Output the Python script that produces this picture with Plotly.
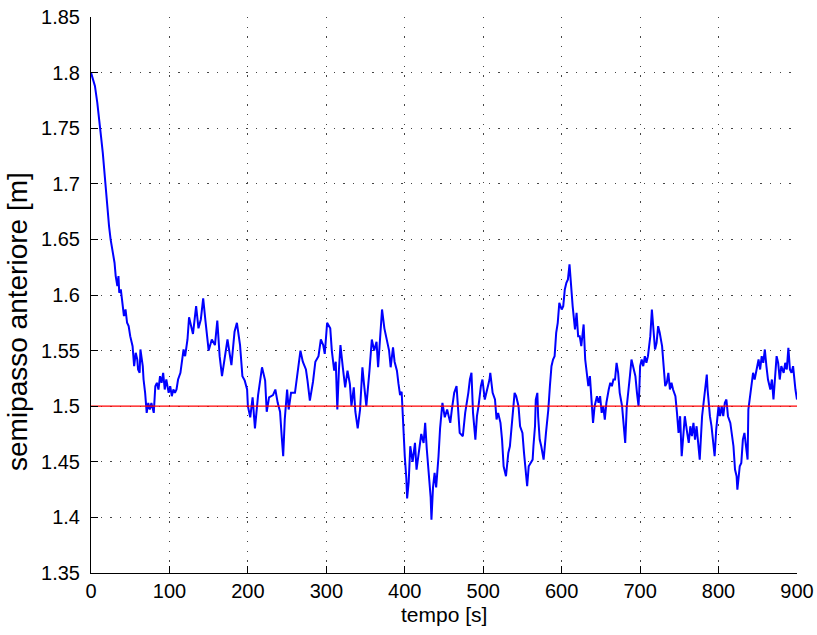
import plotly.graph_objects as go

# ---- data ----
t_a = [0, 5, 8, 10, 12.7, 15, 17, 19, 21, 23, 25, 28, 30, 31.5, 33.6, 35, 36, 38, 40, 42,
       44, 46, 48, 50, 53, 54, 55, 57, 59, 60, 62, 63, 65, 66, 67, 69, 71, 73, 75, 77,
       80, 82, 84, 86, 88, 90, 92, 94, 96, 99, 101, 103, 105, 107, 109, 111, 114, 116, 118]
v_a = [1.80, 1.788, 1.773, 1.758, 1.743, 1.728, 1.71, 1.692, 1.677, 1.662, 1.65, 1.638, 1.629, 1.617, 1.608, 1.617, 1.602, 1.605, 1.59, 1.581,
       1.587, 1.575, 1.572, 1.563, 1.554, 1.545, 1.536, 1.548, 1.542, 1.533, 1.53, 1.551, 1.542, 1.536, 1.524, 1.512, 1.494, 1.503, 1.497, 1.503,
       1.494, 1.518, 1.521, 1.515, 1.527, 1.521, 1.53, 1.515, 1.524, 1.512, 1.518, 1.509, 1.515, 1.512, 1.515, 1.524, 1.53, 1.542, 1.551]

t_b = [120, 123, 125, 130, 134, 137, 140, 143, 146, 150, 154, 158, 161, 164, 167, 170, 174, 179, 183, 186,
       190, 193, 196, 199, 200, 203, 206, 209, 211, 213, 218, 222, 224, 227, 232, 235, 238, 241, 243, 245,
       247, 250, 252, 255, 260, 264, 267, 270, 274, 276]
v_b = [1.545, 1.56, 1.58, 1.565, 1.59, 1.57, 1.578, 1.597, 1.576, 1.55, 1.56, 1.555, 1.577, 1.545, 1.527, 1.54, 1.56, 1.537, 1.567, 1.575,
       1.555, 1.527, 1.523, 1.515, 1.50, 1.49, 1.508, 1.48, 1.495, 1.51, 1.535, 1.523, 1.495, 1.508, 1.51, 1.515, 1.503, 1.495, 1.474, 1.455,
       1.488, 1.515, 1.497, 1.512, 1.512, 1.537, 1.55, 1.54, 1.533, 1.523]

t_c = [279, 283, 286, 290, 293, 296, 298, 301, 305, 307, 310, 312, 314, 316, 318, 321, 324, 327, 330, 332,
       335, 337, 340, 343, 346, 348, 351, 355, 358, 361, 364, 366, 369, 371, 374, 377, 380, 382, 385, 387,
       390, 392, 394, 396, 397, 399, 400, 402, 403, 405, 407, 410, 413, 415, 418, 421, 424, 426, 428, 431,
       433, 434, 436, 438, 440, 443, 445, 448, 451, 454]
v_c = [1.505, 1.522, 1.54, 1.545, 1.56, 1.555, 1.547, 1.575, 1.57, 1.55, 1.532, 1.54, 1.497, 1.532, 1.555, 1.535, 1.517, 1.532, 1.52, 1.50,
       1.517, 1.495, 1.48, 1.497, 1.535, 1.52, 1.50, 1.532, 1.56, 1.55, 1.558, 1.535, 1.57, 1.587, 1.57, 1.56, 1.55, 1.535, 1.553, 1.54,
       1.532, 1.52, 1.51, 1.513, 1.497, 1.48, 1.455, 1.435, 1.417, 1.432, 1.464, 1.45, 1.467, 1.443, 1.46, 1.475, 1.467, 1.485, 1.462, 1.437,
       1.418, 1.398, 1.427, 1.44, 1.427, 1.455, 1.48, 1.503, 1.49, 1.497]

t_d = [458, 460, 463, 466, 468, 470, 474, 477, 481, 483, 485, 487, 490, 492, 494, 497, 499, 502, 505, 508,
       509, 512, 515, 517, 519, 522, 524, 526, 529, 532, 534, 536, 538, 540, 542, 545, 547, 550, 552, 554,
       556, 558, 560, 563, 564, 566, 567, 569, 570, 572, 574, 577, 580, 583, 585, 587, 589, 591, 593, 595,
       597, 600, 602, 604, 606, 608, 610, 612, 614, 617, 619, 621]
v_d = [1.485, 1.497, 1.512, 1.518, 1.491, 1.476, 1.473, 1.494, 1.512, 1.524, 1.53, 1.494, 1.47, 1.491, 1.50, 1.518, 1.524, 1.506, 1.515, 1.524,
       1.53, 1.512, 1.506, 1.488, 1.494, 1.485, 1.47, 1.446, 1.437, 1.458, 1.464, 1.479, 1.491, 1.512, 1.509, 1.50, 1.482, 1.476, 1.458, 1.44,
       1.428, 1.446, 1.449, 1.452, 1.464, 1.482, 1.506, 1.512, 1.491, 1.47, 1.464, 1.452, 1.476, 1.497, 1.518, 1.536, 1.542, 1.545, 1.566, 1.575,
       1.593, 1.587, 1.59, 1.605, 1.611, 1.614, 1.6275, 1.608, 1.59, 1.569, 1.584, 1.563]

t_e = [623, 625, 628, 630, 632, 634, 636, 638, 640, 642, 645, 647, 649, 651, 653, 655, 657, 660, 662, 664,
       666, 668, 670, 672, 674, 677, 679, 681, 683, 685, 687, 689, 691, 694, 696, 698, 699, 700, 702, 704,
       706, 708, 710, 711, 713, 715, 717, 719, 721, 723, 725, 728, 730, 732, 734, 736, 738, 740, 742, 745,
       747, 749, 751, 753, 755, 757, 760, 762, 764, 766, 768, 770]
v_e = [1.563, 1.554, 1.5735, 1.542, 1.527, 1.518, 1.527, 1.509, 1.485, 1.50, 1.509, 1.503, 1.509, 1.494, 1.50, 1.488, 1.503, 1.515, 1.521, 1.518,
       1.524, 1.524, 1.539, 1.53, 1.512, 1.50, 1.485, 1.467, 1.50, 1.512, 1.527, 1.542, 1.536, 1.527, 1.512, 1.50, 1.515, 1.536, 1.542, 1.536,
       1.545, 1.539, 1.545, 1.551, 1.563, 1.587, 1.572, 1.551, 1.557, 1.572, 1.566, 1.554, 1.536, 1.518, 1.521, 1.53, 1.515, 1.521, 1.515, 1.509,
       1.494, 1.476, 1.491, 1.455, 1.473, 1.491, 1.476, 1.467, 1.482, 1.473, 1.485, 1.47]

t_f = [772, 774, 776, 779, 781, 783, 785, 786, 787, 789, 791, 793, 795, 797, 800, 802, 804, 806, 808, 810,
       812, 815, 817, 819, 821, 823, 824, 827, 829, 831, 833, 835, 837, 838, 840, 842, 844, 846, 849, 851,
       853, 855, 857, 859, 861, 863, 866, 868, 870, 872, 874, 876, 878, 880, 883, 885, 887, 889, 891, 893,
       895, 898, 900]
v_f = [1.482, 1.464, 1.452, 1.491, 1.503, 1.518, 1.5285, 1.515, 1.506, 1.491, 1.482, 1.47, 1.455, 1.479, 1.50, 1.491, 1.50, 1.491, 1.503, 1.506,
       1.491, 1.485, 1.476, 1.464, 1.443, 1.437, 1.425, 1.446, 1.449, 1.47, 1.476, 1.461, 1.452, 1.497, 1.509, 1.521, 1.53, 1.524, 1.536, 1.542,
       1.533, 1.545, 1.539, 1.551, 1.536, 1.524, 1.515, 1.524, 1.506, 1.527, 1.545, 1.539, 1.524, 1.536, 1.53, 1.539, 1.533, 1.5525, 1.533, 1.53,
       1.536, 1.515, 1.506]

ref_t = [0, 900]
ref_v = [1.5, 1.5]

x_ticks = [0, 100, 200, 300, 400, 500, 600, 700, 800, 900]
y_ticks = [1.35, 1.4, 1.45, 1.5, 1.55, 1.6, 1.65, 1.7, 1.75, 1.8, 1.85]
y_ticktext = ["1.35", "1.4", "1.45", "1.5", "1.55", "1.6", "1.65", "1.7", "1.75", "1.8", "1.85"]

x_title = "tempo [s]"
y_title = "semipasso anteriore [m]"

segments = [(t_a, v_a), (t_b, v_b), (t_c, v_c), (t_d, v_d), (t_e, v_e), (t_f, v_f)]
t_all, v_all = [], []
for ts, vs in segments:
    assert len(ts) == len(vs), (len(ts), len(vs))
    t_all += ts
    v_all += vs

FONT = "Liberation Sans, Arial, sans-serif"

fig = go.Figure()
fig.add_trace(go.Scatter(x=t_all, y=v_all, mode="lines",
                         line=dict(color="#0000ff", width=2), showlegend=False))
fig.add_trace(go.Scatter(x=ref_t, y=ref_v, mode="lines",
                         line=dict(color="#ff0000", width=1.2), showlegend=False))

axis_common = dict(
    showline=True, linecolor="black", linewidth=1,
    ticks="inside", ticklen=7, tickcolor="black", tickwidth=1,
    showgrid=True, gridcolor="#444444", gridwidth=1, griddash="1.3px,8.4px",
    zeroline=False, mirror=False, automargin=False,
    tickfont=dict(family=FONT, size=20, color="black"),
)

fig.update_layout(
    template="none",
    width=817, height=635,
    margin=dict(l=91, r=20, t=17, b=62, autoexpand=False),
    paper_bgcolor="white", plot_bgcolor="white",
    xaxis=dict(range=[0, 900], tickvals=x_ticks, ticklabelstandoff=0, **axis_common),
    yaxis=dict(range=[1.35, 1.85], tickvals=y_ticks, ticktext=y_ticktext,
               ticklabelstandoff=6, **axis_common),
    annotations=[
        dict(text=x_title, xref="paper", yref="paper", x=0.5, y=-0.074,
             xanchor="center", yanchor="middle", showarrow=False,
             font=dict(family=FONT, size=21, color="black")),
        dict(text=y_title, xref="paper", yref="paper", x=-0.105, y=0.453,
             xanchor="center", yanchor="middle", showarrow=False, textangle=-90,
             font=dict(family=FONT, size=28, color="black")),
    ],
)

fig.write_html("out.html")
